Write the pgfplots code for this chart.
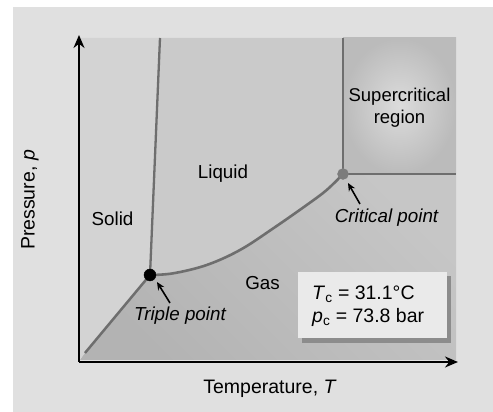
\documentclass[border=0pt]{standalone}
\usepackage{fontspec}
\setmainfont{Liberation Sans}
\usepackage{pgfplots}
\pgfplotsset{compat=1.18}
\usetikzlibrary{arrows.meta}
\definecolor{bgc}{HTML}{E0E0E0}
\definecolor{solidc}{HTML}{D3D3D3}
\definecolor{liqc}{HTML}{CACACA}
\definecolor{gaslo}{HTML}{B3B3B3}
\definecolor{gashi}{HTML}{C6C6C6}
\definecolor{curvec}{HTML}{6E6E6E}
\definecolor{boxc}{HTML}{EAEAEA}
\definecolor{shadc}{HTML}{8C8C8C}
\definecolor{scin}{HTML}{DCDCDC}
\definecolor{scout}{HTML}{BBBBBB}
\tikzset{lab/.style={font=\fontsize{18.8}{22}\selectfont, inner sep=0pt}}
\begin{document}
\begin{tikzpicture}
\begin{axis}[
  scale only axis, width=379pt, height=327pt,
  xmin=0, xmax=379, ymin=0, ymax=327,
  axis lines=left,
  axis line style={line width=2pt, -{Stealth[length=13pt,width=11pt]}},
  ticks=none, clip=false, axis on top,
]
% page background and bounds
\path (axis cs:-79,-50) rectangle (axis cs:414,362);
\addplot[draw=none, fill=bgc] coordinates {(-66,-50) (414,-50) (414,355) (-66,355)} --cycle;
% solid
\addplot[draw=none, fill=solidc] coordinates {(1,2) (1,324) (81,324) (71,87) (6,9) (1,3)} --cycle;
% liquid
\addplot[draw=none, fill=liqc] coordinates {(81,324) (264,324) (264,188) (247.7,172) (227.7,157) (194.3,133.7) (161,112) (127.7,97) (94.3,88.7) (71,87)} --cycle;
% gas
\addplot[draw=none, left color=gaslo, right color=gashi, shading angle=135] coordinates {(1,2) (6,9) (71,87) (94.3,88.7) (127.7,97) (161,112) (194.3,133.7) (227.7,157) (247.7,172) (264,188) (377,188) (377,2)} --cycle;
% supercritical region
\addplot[draw=none, inner color=scin, outer color=scout] coordinates {(264,188) (377,188) (377,324) (264,324)} --cycle;
% boundary lines
\addplot[curvec, line width=2.5pt] coordinates {(6,9) (71,87)};
\addplot[curvec, line width=2.3pt] coordinates {(71,87) (81,324)};
\addplot[curvec, line width=2.6pt, smooth, tension=0.6] coordinates {(71,87) (94.3,88.7) (127.7,97) (161,112) (194.3,133.7) (227.7,157) (247.7,172) (264,188)};
\addplot[curvec, line width=2.3pt] coordinates {(264,324) (264,188) (377,188)};
% points
\addplot[only marks, mark=*, mark size=6pt, black] coordinates {(71,87)};
\addplot[only marks, mark=*, mark size=5.5pt, curvec!90!white, mark options={draw=curvec!90!white}] coordinates {(264,188)};
% info box
\addplot[draw=none, fill=shadc] coordinates {(223,19) (372,19) (372,86) (223,86)} --cycle;
\addplot[draw=none, fill=boxc] coordinates {(219,24) (368,24) (368,90) (219,90)} --cycle;
% arrows
\draw[line width=1.6pt, -{Stealth[length=8pt,width=7pt]}] (axis cs:91,59) -- (axis cs:78,80);
\draw[line width=1.6pt, -{Stealth[length=8pt,width=7pt]}] (axis cs:281,158) -- (axis cs:269,179);
% labels
\node[lab] at (axis cs:33.5,143) {Solid};
\node[lab] at (axis cs:144,188) {Liquid};
\node[lab] at (axis cs:183.5,79) {Gas};
\node[lab] at (axis cs:101,46) {\itshape Triple point};
\node[lab] at (axis cs:307.5,144) {\itshape Critical point};
\node[lab, align=center, font=\fontsize{18.5}{22}\selectfont] at (axis cs:320.5,254) {Supercritical\\region};
\node[lab, align=left, anchor=west, font=\fontsize{19.5}{23}\selectfont] at (axis cs:233,56) {\textit{T}\textsubscript{c} = 31.1°C\\\textit{p}\textsubscript{c} = 73.8 bar};
\node[lab, font=\fontsize{19.5}{23}\selectfont] at (axis cs:191,-27) {Temperature, \textit{T}};
\node[lab, rotate=90, font=\fontsize{19.5}{23}\selectfont] at (axis cs:-49,162) {Pressure, \textit{p}};
\end{axis}
\end{tikzpicture}
\end{document}
